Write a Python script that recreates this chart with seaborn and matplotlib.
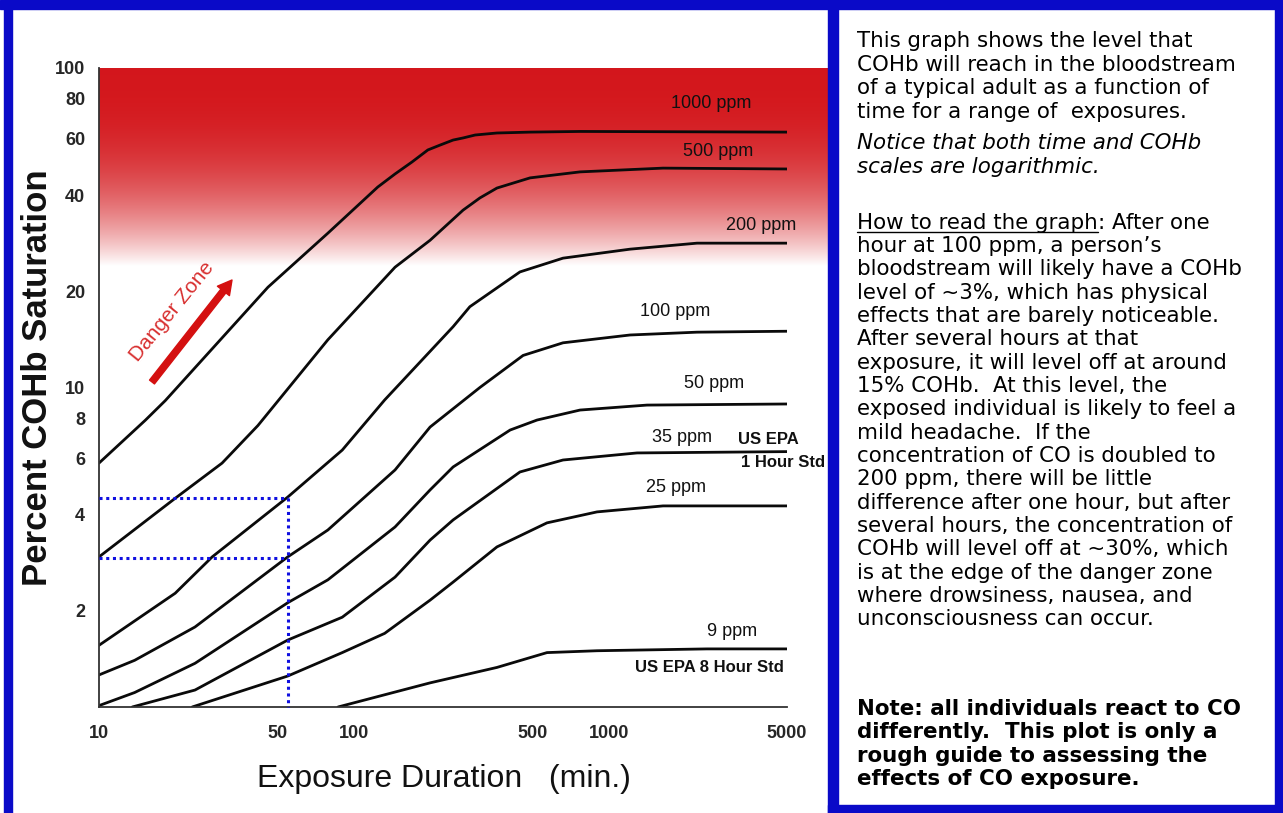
import matplotlib
matplotlib.use('Agg')
import numpy as np
import pandas as pd
import matplotlib.pyplot as plt
import seaborn as sns
from matplotlib import font_manager
from matplotlib.patches import Rectangle
from matplotlib.ticker import FixedLocator, FixedFormatter, NullLocator

# COHb curves: exposure time (min) vs percent COHb
t_1000 = [10, 15.2, 18.2, 46, 79, 124, 145, 169, 195, 218, 245, 268, 299, 364, 491, 771, 5000]
c_1000 = [5.8, 7.9, 9.1, 20.6, 30.4, 42.4, 46.6, 50.8, 55.4, 57.4, 59.5, 60.4, 61.7, 62.6, 63.0, 63.3, 63.0]

t_500 = [10, 19.9, 30.4, 42, 79, 145, 199, 268, 312, 364, 491, 771, 1632, 5000]
c_500 = [2.95, 4.5, 5.8, 7.6, 14.1, 23.8, 28.9, 35.9, 39.2, 42.1, 45.3, 47.3, 48.6, 48.3]

t_200 = [10, 19.9, 27.8, 55, 90, 132, 245, 285, 448, 661, 1211, 2218, 5000]
c_200 = [1.56, 2.27, 2.95, 4.54, 6.37, 9.14, 15.5, 17.9, 23.0, 25.4, 27.1, 28.3, 28.3]

t_100 = [10, 13.8, 23.8, 55, 79, 145, 199, 312, 461, 661, 1211, 2218, 5000]
c_100 = [1.26, 1.40, 1.78, 2.95, 3.58, 5.52, 7.52, 10.0, 12.6, 13.8, 14.6, 14.9, 15.0]

t_50 = [10, 13.8, 23.8, 55, 79, 145, 199, 245, 410, 523, 771, 1412, 5000]
c_50 = [1.01, 1.11, 1.37, 2.12, 2.50, 3.66, 4.78, 5.64, 7.36, 7.91, 8.50, 8.81, 8.88]

t_35 = [13.5, 23.8, 55, 90, 145, 199, 245, 448, 661, 1290, 5000]
c_35 = [1.0, 1.13, 1.62, 1.91, 2.55, 3.33, 3.85, 5.44, 5.93, 6.24, 6.30]

t_25 = [23.2, 55, 90, 132, 199, 245, 364, 572, 899, 1632, 5000]
c_25 = [1.0, 1.25, 1.48, 1.70, 2.16, 2.46, 3.17, 3.77, 4.08, 4.26, 4.26]

t_9 = [86.6, 199, 364, 572, 899, 2428, 5000]
c_9 = [1.0, 1.19, 1.33, 1.48, 1.50, 1.52, 1.52]

# the worked example (one hour, ~3% at 100 ppm, ~4.5% at 200 ppm)
one_hour = 55
cohb_100 = 2.93
cohb_200 = 4.51

x_ticks = [10, 20, 30, 40, 50, 60, 70, 80, 90, 100, 200, 300, 400, 500, 600, 700, 800, 900,
           1000, 2000, 3000, 4000, 5000]
x_labeled = [10, 50, 100, 500, 1000, 5000]
y_ticks = [2, 3, 4, 5, 6, 7, 8, 9, 10, 20, 30, 40, 50, 60, 70, 80, 90, 100]
y_labeled = [2, 4, 6, 8, 10, 20, 40, 60, 80, 100]

panel_lines = [
    ("This graph shows the level that", 'normal', 'normal'),
    ("COHb will reach in the bloodstream", 'normal', 'normal'),
    ("of a typical adult as a function of", 'normal', 'normal'),
    ("time for a range of  exposures.", 'normal', 'normal'),
    ("Notice that both time and COHb", 'italic', 'normal'),
    ("scales are logarithmic.", 'italic', 'normal'),
    ("", 'normal', 'normal'),
    ("UNDERLINE", 'normal', 'normal'),
    ("hour at 100 ppm, a person\u2019s", 'normal', 'normal'),
    ("bloodstream will likely have a COHb", 'normal', 'normal'),
    ("level of ~3%, which has physical", 'normal', 'normal'),
    ("effects that are barely noticeable.", 'normal', 'normal'),
    ("After several hours at that", 'normal', 'normal'),
    ("exposure, it will level off at around", 'normal', 'normal'),
    ("15% COHb.  At this level, the", 'normal', 'normal'),
    ("exposed individual is likely to feel a", 'normal', 'normal'),
    ("mild headache.  If the", 'normal', 'normal'),
    ("concentration of CO is doubled to", 'normal', 'normal'),
    ("200 ppm, there will be little", 'normal', 'normal'),
    ("difference after one hour, but after", 'normal', 'normal'),
    ("several hours, the concentration of", 'normal', 'normal'),
    ("COHb will level off at ~30%, which", 'normal', 'normal'),
    ("is at the edge of the danger zone", 'normal', 'normal'),
    ("where drowsiness, nausea, and", 'normal', 'normal'),
    ("unconsciousness can occur.", 'normal', 'normal'),
    ("", 'normal', 'normal'),
    ("Note: all individuals react to CO", 'normal', 'bold'),
    ("differently.  This plot is only a", 'normal', 'bold'),
    ("rough guide to assessing the", 'normal', 'bold'),
    ("effects of CO exposure.", 'normal', 'bold'),
]
panel_y = [47, 71, 94, 118, 149, 173, None, 229, 252, 275, 299, 322, 345, 369, 392, 415,
           439, 462, 485, 509, 532, 555, 579, 602, 625, None, 715, 738, 762, 785]

frames = []
for ppm, t, c in [("1000", t_1000, c_1000), ("500", t_500, c_500), ("200", t_200, c_200),
                  ("100", t_100, c_100), ("50", t_50, c_50), ("35", t_35, c_35),
                  ("25", t_25, c_25), ("9", t_9, c_9)]:
    frames.append(pd.DataFrame({'minutes': t, 'cohb': c, 'ppm': ppm}))
df = pd.concat(frames, ignore_index=True)

sns.set_style('white')
names = {f.name for f in font_manager.fontManager.ttflist}
narrow = 'Liberation Sans Narrow' if 'Liberation Sans Narrow' in names else 'Liberation Sans'
plt.rcParams['font.family'] = ['Liberation Sans', 'DejaVu Sans']

W, H = 1283, 813
fig = plt.figure(figsize=(W / 100, H / 100), dpi=100)
fig.patch.set_facecolor('white')

def fr(x0, y0, x1, y1):
    # pixel box (top-left origin) -> figure fraction rect
    return [x0 / W, 1 - y1 / H, (x1 - x0) / W, (y1 - y0) / H]

# red danger band behind the plot
bg = fig.add_axes(fr(99, 68, 828, 266))
tt = np.linspace(0, 1, 256)[:, None]
fade = tt ** 2.5
red = np.array([0.83, 0.09, 0.11])
img = red[None, None, :] * (1 - fade[..., None]) + fade[..., None]
img = np.repeat(img, 2, axis=1)
bg.imshow(img, aspect='auto', extent=[0, 1, 0, 1])
bg.set_axis_off()
bg.set_zorder(0)

ax = fig.add_axes(fr(99, 68, 787, 707))
ax.set_zorder(1)
ax.patch.set_alpha(0)

sns.lineplot(data=df, x='minutes', y='cohb', hue='ppm', estimator=None, sort=True,
             palette=['#0a0a0a'] * 8, linewidth=2.0, legend=False, ax=ax)

ax.set_xscale('log')
ax.set_yscale('log')
ax.set_xlim(10, 5000)
ax.set_ylim(1, 100)

ax.xaxis.set_major_locator(FixedLocator(x_ticks))
ax.xaxis.set_major_formatter(FixedFormatter([str(v) if v in x_labeled else '' for v in x_ticks]))
ax.xaxis.set_minor_locator(NullLocator())
ax.yaxis.set_major_locator(FixedLocator(y_ticks))
ax.yaxis.set_major_formatter(FixedFormatter([str(v) if v in y_labeled else '' for v in y_ticks]))
ax.yaxis.set_minor_locator(NullLocator())
ax.tick_params(axis='both', which='major', direction='out', length=9, width=1.2,
               color='#333333')
ax.tick_params(axis='x', pad=4)
ax.tick_params(axis='y', pad=1)
tick_size = 15 if narrow != 'Liberation Sans' else 13
for lab in ax.get_xticklabels() + ax.get_yticklabels():
    lab.set_fontfamily(narrow)
    lab.set_fontweight('bold')
    lab.set_fontsize(tick_size)
ax.set_xlabel('')
ax.set_ylabel('')
for s in ['top', 'right']:
    ax.spines[s].set_visible(False)
for s in ['left', 'bottom']:
    ax.spines[s].set_color('#333333')
    ax.spines[s].set_linewidth(1.3)

# worked-example dotted guides
dot = dict(color='#1010e0', linestyle=(0, (1, 1.2)), linewidth=2.2, zorder=5)
ax.plot([10, one_hour], [cohb_200, cohb_200], **dot)
ax.plot([10, one_hour], [cohb_100, cohb_100], **dot)
ax.plot([one_hour, one_hour], [cohb_200, 1], clip_on=False, **dot)

# curve labels (axes-fraction placement)
def af(px, py):
    return ((px - 99) / 688, (707 - py) / 639)

ppm_labels = [("1000 ppm", 711, 104), ("500 ppm", 718, 152), ("200 ppm", 761, 225),
              ("100 ppm", 675, 312), ("50 ppm", 714, 384), ("35 ppm", 682, 438),
              ("25 ppm", 676, 487), ("9 ppm", 732, 632)]
for txt, px, py in ppm_labels:
    ax.text(*af(px, py), txt, transform=ax.transAxes, ha='center', va='center',
            fontsize=13, color='#111111', clip_on=False)
std_labels = [("US EPA", 768, 439), ("1 Hour Std", 783, 462), ("US EPA 8 Hour Std", 709, 667)]
for txt, px, py in std_labels:
    ax.text(*af(px, py), txt, transform=ax.transAxes, ha='center', va='center',
            fontsize=12, fontweight='bold', color='#111111', clip_on=False)

# danger zone arrow and text
ax.annotate('', xy=af(232, 280), xytext=af(152, 382), xycoords='axes fraction',
            textcoords='axes fraction',
            arrowprops=dict(arrowstyle='simple,head_length=1.0,head_width=1.1,tail_width=0.45',
                            color='#d41010', mutation_scale=10, shrinkA=0, shrinkB=0))
ax.text(*af(172, 312), 'Danger Zone', transform=ax.transAxes, rotation=51,
        rotation_mode='anchor', ha='center', va='center', fontsize=15, color='#d83030')

# axis titles
fig.text(38 / W, 1 - 378 / H, 'Percent COHb Saturation', rotation=90, ha='center',
         va='center', fontsize=25, fontweight='bold', color='#111111')
xl_font = narrow if narrow != 'Liberation Sans' else 'Liberation Sans'
fig.text(444 / W, 1 - 779 / H, 'Exposure Duration   (min.)', ha='center', va='center',
         fontsize=27 if narrow != 'Liberation Sans' else 23, family=xl_font, color='#111111')

# blue frame
blue = '#0a0ac8'
for box in [(0, 0, W, 9), (4, 0, 12, H), (828, 0, 838, H), (1275, 0, W, H), (828, 805, W, H)]:
    r = fr(*box)
    fig.patches.append(Rectangle((r[0], r[1]), r[2], r[3],
                                 transform=fig.transFigure, color=blue, zorder=3))

# explanatory text panel
renderer = fig.canvas.get_renderer()
tx = 857
fs = 15.4
for (txt, style, weight), py in zip(panel_lines, panel_y):
    if py is None:
        continue
    if txt == "UNDERLINE":
        t1 = fig.text(tx / W, 1 - py / H, "How to read the graph", ha='left', va='baseline',
                      fontsize=fs, family='DejaVu Sans', color='black')
        bb = t1.get_window_extent(renderer)
        fig.add_artist(plt.Line2D([bb.x0 / W, bb.x1 / W], [(H - py - 3) / H] * 2,
                                  transform=fig.transFigure, color='black', linewidth=1))
        fig.text(bb.x1 / W, 1 - py / H, ": After one", ha='left', va='baseline',
                 fontsize=fs, family='DejaVu Sans', color='black')
        continue
    fig.text(tx / W, 1 - py / H, txt, ha='left', va='baseline', fontsize=fs,
             family='DejaVu Sans', style=style, fontweight=weight, color='black')

fig.savefig('out.png', dpi=100)
